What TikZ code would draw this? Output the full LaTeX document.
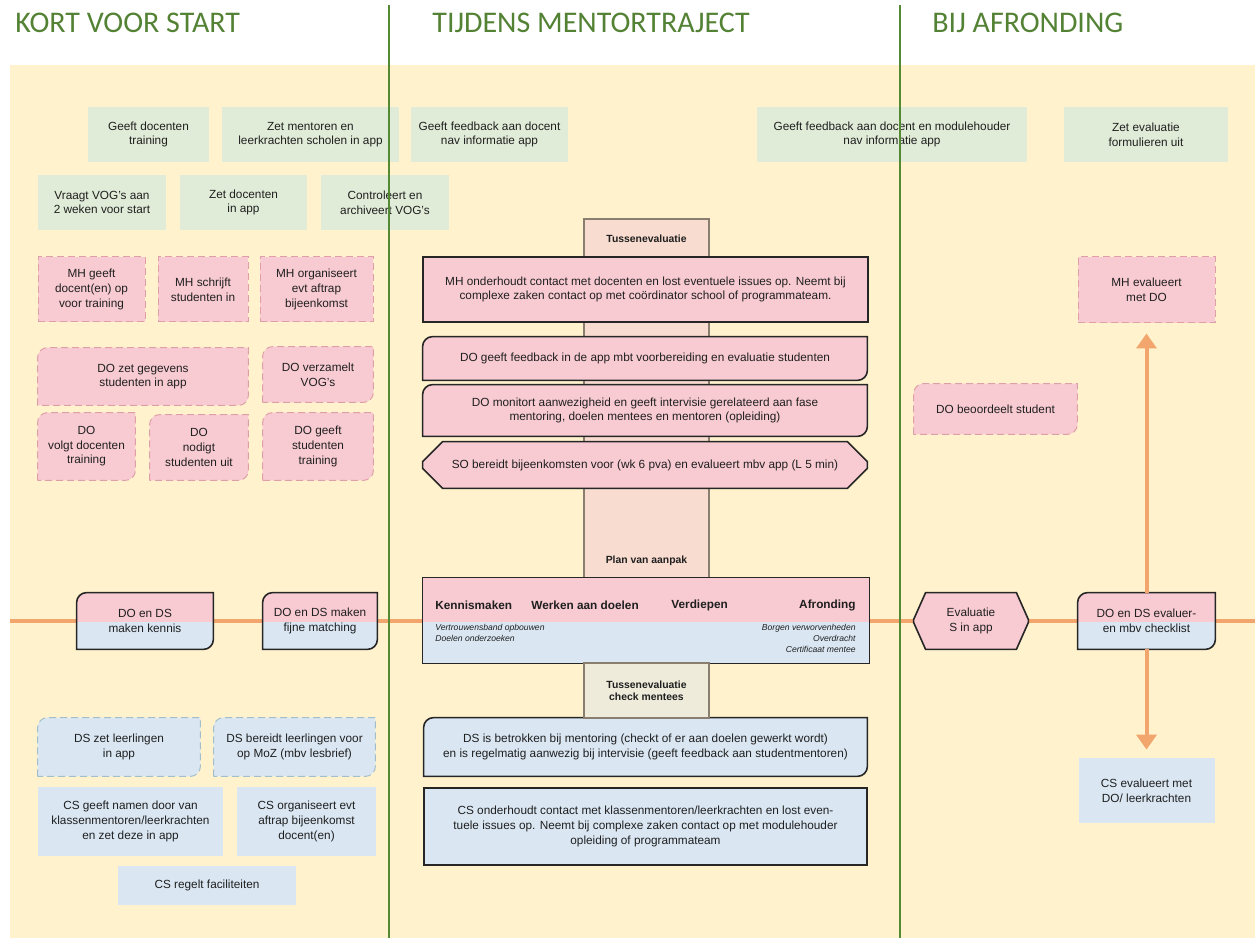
\documentclass[tikz,border=0pt]{standalone}
\usepackage{fontspec}
\setmainfont{Liberation Sans}
\newfontfamily\headfont{Carlito}
\usetikzlibrary{arrows.meta}

\definecolor{beige}{HTML}{FFF2CC}
\definecolor{greenfill}{HTML}{E1ECD8}
\definecolor{pinkfill}{HTML}{F8CBD2}
\definecolor{pinkdash}{HTML}{DE9FA8}
\definecolor{bluefill}{HTML}{DAE7F3}
\definecolor{bluedash}{HTML}{A3BECB}
\definecolor{peach}{HTML}{F9DCD0}
\definecolor{greyfill}{HTML}{EEEBDB}
\definecolor{colline}{HTML}{8A7E6E}
\definecolor{orangeline}{HTML}{F2A66E}
\definecolor{phasegreen}{HTML}{548235}
\definecolor{phaseline}{HTML}{558A35}
\definecolor{ink}{HTML}{1F1F1F}
\definecolor{frame}{HTML}{262626}

\pgfdeclarelayer{back}
\pgfdeclarelayer{shapes}
\pgfsetlayers{back,shapes,main}

\begin{document}
\begin{tikzpicture}[x=0.5pt,y=-0.5pt,>={Triangle[width=10pt,length=7.5pt]},
  every node/.style={font=\fontsize{5.9}{7.3}\selectfont,text=ink,align=center,inner sep=0pt},
  sz/.style 2 args={minimum width=#1*0.5pt,minimum height=#2*0.5pt},
  task/.style={fill=greenfill},
  role/.style={fill=pinkfill,draw=pinkdash,line width=0.5pt,dash pattern=on 3.5pt off 2pt},
  school/.style={fill=bluefill},
  core/.style={fill=pinkfill,draw=frame,line width=0.8pt},
  coreblue/.style={fill=bluefill,draw=frame,line width=0.8pt},
  pinkcard/.style={fill=pinkfill,draw=pinkdash,line width=0.5pt,dash pattern=on 3.5pt off 2pt},
  bluecard/.style={fill=bluefill,draw=bluedash,line width=0.5pt,dash pattern=on 3.5pt off 2pt},
  phase/.style={font=\headfont\fontsize{15}{17}\selectfont,text=phasegreen,anchor=base west},
  colbox/.style={draw=colline,line width=0.6pt},
  colhead/.style={font=\bfseries\fontsize{5.2}{5.9}\selectfont},
  stage/.style={font=\bfseries\fontsize{5.9}{7}\selectfont},
  note/.style={font=\itshape\fontsize{4.3}{5.5}\selectfont},
  timeline/.style={draw=orangeline,line width=2pt},
  flow/.style={draw=orangeline,line width=2pt,->,shorten >=5pt},
  divider/.style={draw=phaseline,line width=1pt}]

\useasboundingbox (0,0) rectangle (1255,941);

\begin{pgfonlayer}{back}
\fill[beige] (10,65) rectangle (1255,938);
\coordinate (tlstart) at (10,621);
\coordinate (tlend) at (1255,621);
\draw[timeline] (tlstart) -- (tlend);
\node[colbox,fill=peach,sz={125}{359}] (tussen) at (646.5,398.5) {};
\end{pgfonlayer}

\node[phase] (kort) at (15,33) {KORT VOOR START};
\node[phase] (tijdens) at (432,33) {TIJDENS MENTORTRAJECT};
\node[phase] (afronding) at (932,33) {BIJ AFRONDING};

\node[task,sz={121}{55}] (training) at (148.5,134.5) {Geeft docenten\\training};
\node[task,sz={177}{55}] (mentorenapp) at (310.5,134.5) {Zet mentoren en\\leerkrachten scholen in app};
\node[task,sz={157}{55}] (feedbackdocent) at (489.5,134.5) {Geeft feedback aan docent\\nav informatie app};
\node[task,sz={270}{55}] (feedbackmodule) at (892,134.5) {Geeft feedback aan docent en modulehouder\\nav informatie app};
\node[task,sz={164}{55}] (formulieren) at (1146,134.5) {Zet evaluatie\\formulieren uit};
\node[task,sz={128}{55}] (vog) at (102,202.5) {Vraagt VOG's aan\\2 weken voor start};
\node[task,sz={127}{55}] (docentenapp) at (243.5,202.5) {Zet docenten\\in app};
\node[task,sz={128}{55}] (archiveert) at (385,202.5) {Controleert en\\archiveert VOG's};

\node[role,sz={107}{65}] (opgeven) at (91.5,289.5) {MH geeft\\docent(en) op\\voor training};
\node[role,sz={90}{65}] (inschrijven) at (203,289.5) {MH schrijft\\studenten in};
\node[role,sz={113}{65}] (aftrap) at (316.5,289.5) {MH organiseert\\evt aftrap\\bijeenkomst};
\node[sz={210}{57}] (gegevens) at (143,376.5) {DO zet gegevens\\studenten in app};
\node[sz={110}{55}] (verzamelt) at (318,374.5) {DO verzamelt\\VOG's};
\node[sz={97}{67}] (volgt) at (86.5,446.5) {DO\\volgt docenten\\training};
\node[sz={98}{65}] (nodigt) at (199,447.5) {DO\\nodigt\\studenten uit};
\node[sz={110}{67}] (geeftstud) at (318,446.5) {DO geeft\\studenten\\training};

\node[colhead] (tussenlabel) at (646.5,239) {Tussenevaluatie};
\node[colhead] (pvalabel) at (646.5,561) {Plan van aanpak};
\node[core,sz={445}{65}] (onderhoudt) at (645.5,289.5) {MH onderhoudt contact met docenten en lost eventuele issues op. Neemt bij\\complexe zaken contact op met coördinator school of programmateam.};
\node[sz={444}{43}] (feedback) at (645,358.5) {DO geeft feedback in de app mbt voorbereiding en evaluatie studenten};
\node[sz={444}{51}] (monitort) at (645,410.5) {DO monitort aanwezigheid en geeft intervisie gerelateerd aan fase\\mentoring, doelen mentees en mentoren (opleiding)};
\node[sz={444}{46}] (bijeen) at (645,465) {SO bereidt bijeenkomsten voor (wk 6 pva) en evalueert mbv app (L 5 min)};

\node[sz={446}{85}] (fasen) at (646,620.5) {};
\node[stage,anchor=west] (stagekennis) at (435,605) {Kennismaken};
\node[stage,anchor=west] (stagewerken) at (531,605) {Werken aan doelen};
\node[stage,anchor=west] (stagediep) at (671,605) {Verdiepen};
\node[stage,anchor=east] (stageafr) at (856,605) {Afronding};
\node[note,anchor=north west,align=left] (noteleft) at (435,623.5) {Vertrouwensband opbouwen\\Doelen onderzoeken};
\node[note,anchor=north east,align=right] (noteright) at (856,623.5) {Borgen verworvenheden\\Overdracht\\Certificaat mentee};
\node[colbox,fill=greyfill,colhead,sz={125}{55}] (check) at (646.5,690.5) {Tussenevaluatie\\check mentees};

\node[sz={443}{58}] (betrokken) at (645.5,747) {DS is betrokken bij mentoring (checkt of er aan doelen gewerkt wordt)\\en is regelmatig aanwezig bij intervisie (geeft feedback aan studentmentoren)};
\node[coreblue,sz={443}{77}] (csonderhoudt) at (645.5,826.5) {CS onderhoudt contact met klassenmentoren/leerkrachten en lost even-\\tuele issues op. Neemt bij complexe zaken contact op met modulehouder\\opleiding of programmateam};

\node[sz={136}{56}] (kennis) at (145,621) {DO en DS\\maken kennis};
\node[sz={114}{56}] (matching) at (320,621) {DO en DS maken\\fijne matching};
\node[sz={114}{56}] (evalapp) at (971,621) {Evaluatie\\S in app};
\node[sz={137}{56}] (evalchk) at (1146.5,621) {DO en DS evaluer-\\en mbv checklist};

\node[role,sz={137}{66}] (mhevalueert) at (1146.5,290) {MH evalueert\\met DO};
\node[sz={163}{50}] (beoordeelt) at (995.5,409) {DO beoordeelt student};
\node[school,sz={136}{65}] (csevalueert) at (1146.5,790.5) {CS evalueert met\\DO/ leerkrachten};

\node[sz={162}{58}] (dszet) at (119,747) {DS zet leerlingen\\in app};
\node[sz={161}{58}] (dsbereidt) at (294.5,747) {DS bereidt leerlingen voor\\op MoZ (mbv lesbrief)};
\node[school,sz={185}{69}] (namen) at (130.5,821.5) {CS geeft namen door van\\klassenmentoren/leerkrachten\\en zet deze in app};
\node[school,sz={139}{69}] (csaftrap) at (306.5,821.5) {CS organiseert evt\\aftrap bijeenkomst\\docent(en)};
\node[school,sz={178}{39}] (faciliteiten) at (207,885.5) {CS regelt faciliteiten};

\begin{pgfonlayer}{shapes}
\foreach \n in {gegevens,verzamelt,volgt,nodigt,geeftstud,beoordeelt}
  \path[pinkcard] (\n.south west) [rounded corners=5pt] -- (\n.north west) [sharp corners] -- (\n.north east) [rounded corners=5pt] -- (\n.south east) [sharp corners] -- cycle;
\foreach \n in {dszet,dsbereidt}
  \path[bluecard] (\n.south west) [rounded corners=5pt] -- (\n.north west) [sharp corners] -- (\n.north east) [rounded corners=5pt] -- (\n.south east) [sharp corners] -- cycle;
\foreach \n in {feedback,monitort}
  \path[core] (\n.south west) [rounded corners=5pt] -- (\n.north west) [sharp corners] -- (\n.north east) [rounded corners=5pt] -- (\n.south east) [sharp corners] -- cycle;
\path[coreblue] (betrokken.south west) [rounded corners=5pt] -- (betrokken.north west) [sharp corners] -- (betrokken.north east) [rounded corners=5pt] -- (betrokken.south east) [sharp corners] -- cycle;
\foreach \n in {kennis,matching,evalchk}{
  \begin{scope}
    \clip (\n.south west) [rounded corners=5pt] -- (\n.north west) [sharp corners] -- (\n.north east) [rounded corners=5pt] -- (\n.south east) [sharp corners] -- cycle;
    \fill[bluefill] (\n.south west) rectangle (\n.north east);
    \fill[pinkfill] (\n.north west) rectangle ([yshift=-0.5pt]\n.east);
  \end{scope}
  \path[draw=frame,line width=0.8pt] (\n.south west) [rounded corners=5pt] -- (\n.north west) [sharp corners] -- (\n.north east) [rounded corners=5pt] -- (\n.south east) [sharp corners] -- cycle;
}
\foreach \n/\cx/\cy in {bijeen/10pt/10pt,evalapp/6pt/13.5pt}
  \path[core] ([xshift=\cx]\n.north west) -- ([xshift=-\cx]\n.north east) -- ([yshift=-\cy]\n.north east) -- ([yshift=\cy]\n.south east) -- ([xshift=-\cx]\n.south east) -- ([xshift=\cx]\n.south west) -- ([yshift=\cy]\n.south west) -- ([yshift=-\cy]\n.north west) -- cycle;
\fill[bluefill] (fasen.south west) rectangle (fasen.north east);
\fill[pinkfill] (fasen.north west) rectangle ([yshift=-0.75pt]fasen.east);
\draw[frame,line width=0.8pt] (fasen.south west) rectangle (fasen.north east);
\end{pgfonlayer}

\draw[flow] (evalchk) -- (mhevalueert);
\draw[flow,shorten >=4pt] (evalchk) -- (csevalueert);

\coordinate (div1top) at (389,5);
\coordinate (div1bot) at (389,938);
\coordinate (div2top) at (900,5);
\coordinate (div2bot) at (900,938);
\draw[divider] (div1top) -- (div1bot);
\draw[divider] (div2top) -- (div2bot);

\end{tikzpicture}
\end{document}
